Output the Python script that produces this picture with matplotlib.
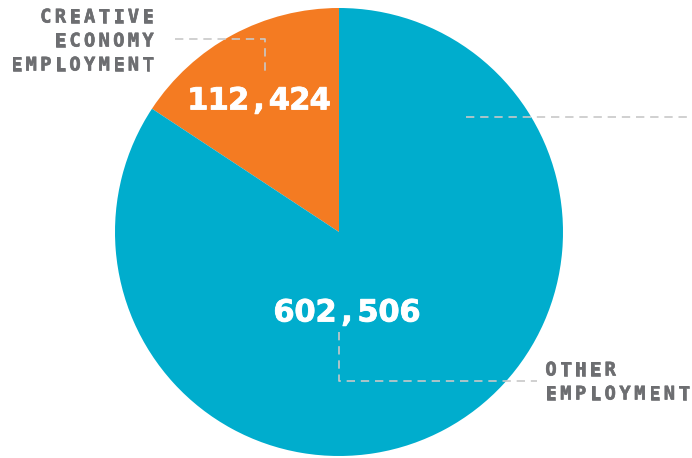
import matplotlib
matplotlib.use("Agg")
import matplotlib.pyplot as plt
import matplotlib.patheffects as pe

# employment figures
labels = ["CREATIVE\nECONOMY\nEMPLOYMENT", "OTHER\nEMPLOYMENT"]
values = [112424, 602506]
colors = ["#F47B22", "#00ADCD"]

W, H = 692, 458
fig = plt.figure(figsize=(W / 100, H / 100), dpi=100)
ax = fig.add_axes([0, 0, 1, 1])


def py(y):
    # pixel rows measured from the top
    return H - y


def tracked(ax, x, y, s, stride, ha="left", **kw):
    # draw a word with wide, even letter spacing
    n = len(s)
    if ha == "right":
        x0 = x - (n - 1) * stride
    elif ha == "center":
        x0 = x - (n - 1) * stride / 2
    else:
        x0 = x
    for i, ch in enumerate(s):
        ax.text(x0 + i * stride, py(y), ch, ha="center", va="center", **kw)


ax.pie(values, colors=colors, startangle=90, counterclock=True,
       center=(339, py(232)), radius=224,
       wedgeprops=dict(linewidth=0))

ax.set_xlim(0, W)
ax.set_ylim(0, H)
ax.set_aspect("equal")
ax.axis("off")

# value labels inside the slices
num_kw = dict(color="white", fontsize=22, fontweight="bold",
              family="DejaVu Sans",
              path_effects=[pe.withStroke(linewidth=0.6, foreground="white")])
tracked(ax, 259, 101, f"{values[0]:,}", 20.4, ha="center", **num_kw)
tracked(ax, 347, 313, f"{values[1]:,}", 21.0, ha="center", **num_kw)

# category labels
gray = "#6D6E71"
lab_kw = dict(color=gray, fontsize=13.5, fontweight="bold",
              family="DejaVu Sans Mono",
              path_effects=[pe.withStroke(linewidth=0.45, foreground=gray)])
for i, word in enumerate(labels[0].split("\n")):
    tracked(ax, 148, 17 + i * 24, word, 14.6, ha="right", **lab_kw)
for i, word in enumerate(labels[1].split("\n")):
    tracked(ax, 551, 370 + i * 24, word, 14.8, **lab_kw)

# dashed leader lines
lead = dict(color="#C8C8C8", linewidth=1.2, dashes=(5, 3.5))
ax.plot([175, 265, 265], [py(38.5), py(38.5), py(75)], **lead)
ax.plot([466, 692], [py(117), py(117)], **lead)
ax.plot([339, 339, 537], [py(332), py(381), py(381)], **lead)

fig.savefig("out.png", dpi=100)
